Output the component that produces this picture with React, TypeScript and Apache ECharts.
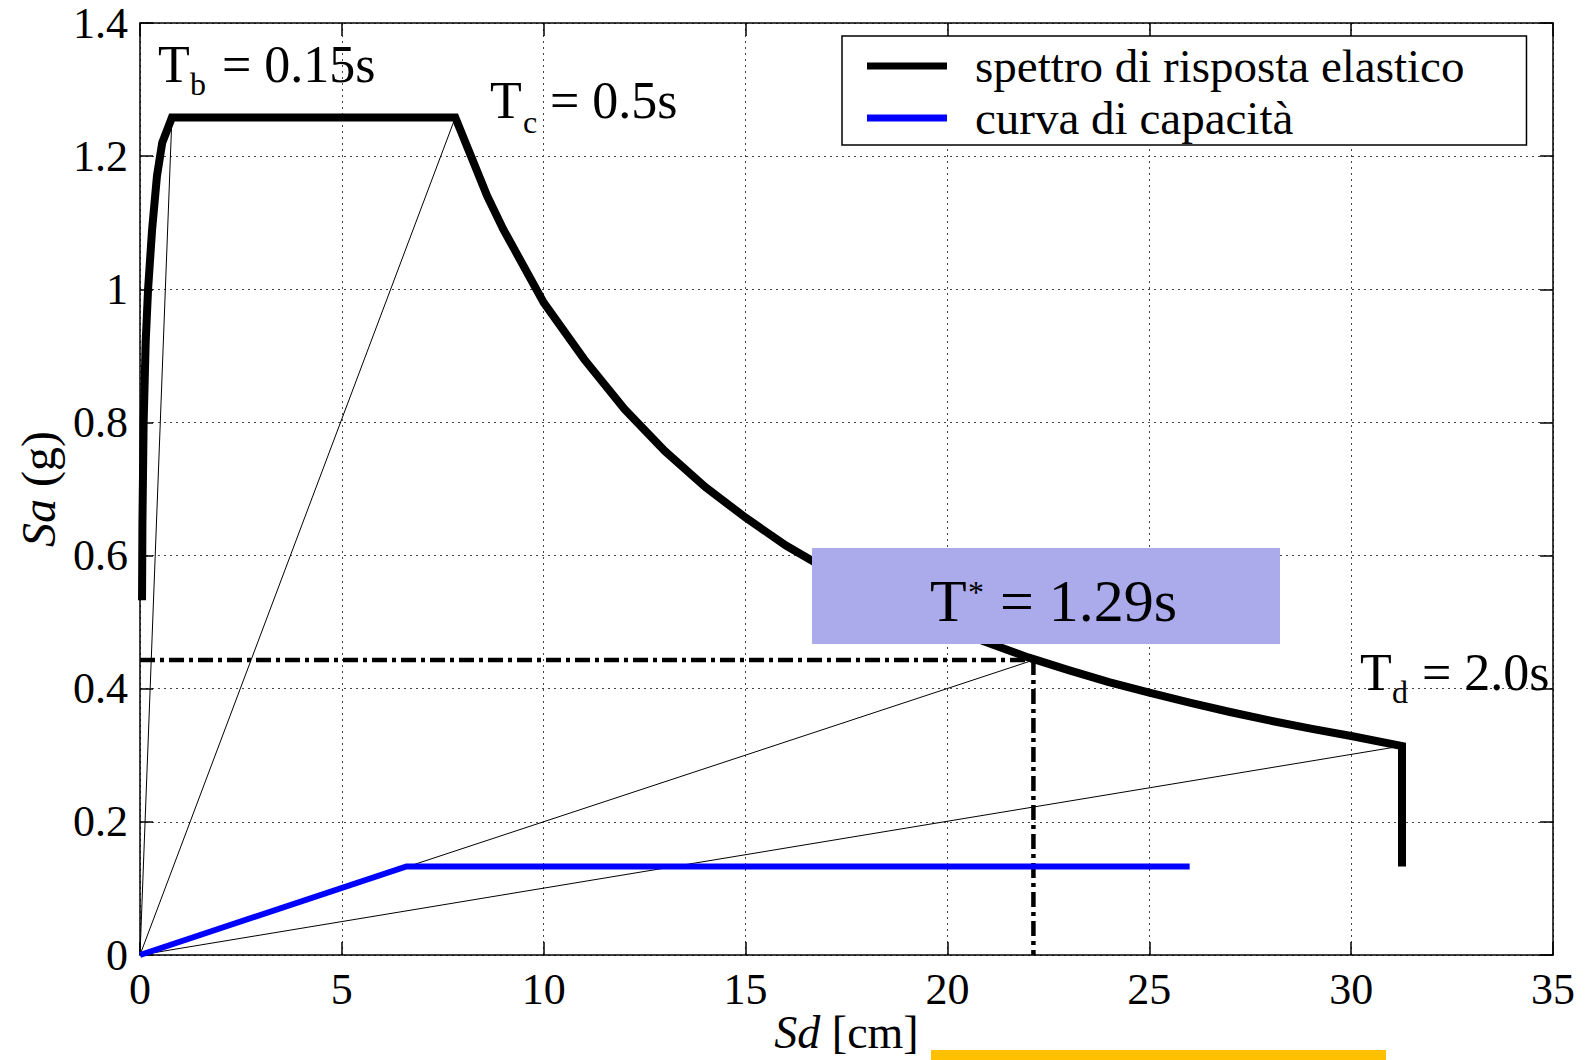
import React, { useEffect, useRef } from "react";
import * as echarts from "echarts";

// ---- Data ----
const xTicks = [0, 5, 10, 15, 20, 25, 30, 35];
const yTickLabels = ["0", "0.2", "0.4", "0.6", "0.8", "1", "1.2", "1.4"];

// elastic response spectrum (Sd [cm], Sa [g])
const spectrumSd = [
  0.05, 0.06, 0.09, 0.14, 0.2, 0.3, 0.42, 0.55, 0.79, 7.81, 8.2, 8.6, 9, 9.5, 10, 11, 12, 13, 14, 15,
  16, 17, 18, 19, 20, 21, 22, 23, 24, 25, 26, 27, 28, 29, 30, 31.26, 31.26,
];
const spectrumSa = [
  0.533, 0.65, 0.8, 0.92, 1.0, 1.09, 1.17, 1.22, 1.258, 1.258, 1.2, 1.14, 1.09, 1.035, 0.98, 0.895,
  0.82, 0.757, 0.703, 0.657, 0.615, 0.58, 0.547, 0.518, 0.492, 0.469, 0.447, 0.428, 0.41, 0.394,
  0.379, 0.365, 0.352, 0.34, 0.329, 0.314, 0.133,
];

// capacity curve
const capacitySd = [0, 6.6, 26];
const capacitySa = [0, 0.133, 0.133];

// thin rays from the origin (Tb, Tc, T*, Td)
const rayEndSd = [0.79, 7.81, 22.13, 31.26];
const rayEndSa = [1.258, 1.258, 0.443, 0.314];

// T* performance point
const tStarSd = 22.13;
const tStarSa = 0.443;

const legendNames = ["spettro di risposta elastico", "curva di capacità"];

const SERIF = '"Liberation Serif", "Times New Roman", serif';

function txt(text: string, x: number, y: number, size: number) {
  return {
    type: "text",
    x,
    y,
    z: 110,
    silent: true,
    style: {
      text,
      fill: "#000",
      font: `${size}px ${SERIF}`,
      textAlign: "left",
      textVerticalAlign: "middle",
    },
  };
}

export default function App() {
  const ref = useRef<HTMLDivElement>(null);

  useEffect(() => {
    if (!ref.current) return;
    const chart = echarts.init(ref.current, undefined, { renderer: "svg" });

    const pairs = (xs: number[], ys: number[]) => xs.map((x, i) => [x, ys[i]]);

    const axisLineStyle = { color: "#000", width: 1.5 };
    const tickCommon = { inside: true, length: 13, lineStyle: { color: "#000", width: 1.5 } };
    const gridLine = { show: true, lineStyle: { type: [2, 4], color: "#444", width: 1 } };

    const rays = rayEndSd.map((sd, i) => ({
      name: "ray" + i,
      type: "line",
      data: [
        [0, 0],
        [sd, rayEndSa[i]],
      ],
      symbol: "none",
      lineStyle: { color: "#000", width: 1 },
      z: 3,
      silent: true,
    }));

    const dashDot = [15, 5, 4, 5];

    const option: any = {
      animation: false,
      backgroundColor: "#fff",
      grid: {
        left: 140,
        right: 34,
        top: 23,
        bottom: 105,
        containLabel: false,
        outerBoundsMode: "none",
      },
      legend: {
        data: legendNames,
        orient: "vertical",
        left: 842,
        top: 36,
        icon: "rect",
        itemWidth: 80,
        itemHeight: 7,
        itemGap: 0,
        padding: [4, 62, 1, 25],
        backgroundColor: "#fff",
        borderColor: "#000",
        borderWidth: 1.5,
        borderRadius: 0,
        selectedMode: false,
        textStyle: {
          fontFamily: SERIF,
          fontSize: 47,
          lineHeight: 52,
          color: "#000",
          padding: [0, 0, 0, 23],
        },
      },
      xAxis: [
        {
          type: "value",
          min: 0,
          max: 35,
          interval: 5,
          position: "bottom",
          axisLine: { show: true, onZero: false, lineStyle: axisLineStyle },
          axisTick: tickCommon,
          axisLabel: {
            margin: 12,
            fontFamily: SERIF,
            fontSize: 44,
            color: "#000",
            formatter: (v: number) => (xTicks.includes(v) ? String(v) : ""),
          },
          splitLine: gridLine,
          name: "{i|Sd} [cm]",
          nameLocation: "middle",
          nameGap: 54,
          nameMoveOverlap: false,
          nameTextStyle: {
            fontFamily: SERIF,
            fontSize: 46,
            lineHeight: 46,
            color: "#000",
            rich: {
              i: { fontFamily: SERIF, fontSize: 46, lineHeight: 46, fontStyle: "italic", color: "#000" },
            },
          },
        },
        {
          type: "value",
          min: 0,
          max: 35,
          interval: 5,
          position: "top",
          axisLine: { show: true, onZero: false, lineStyle: axisLineStyle },
          axisTick: tickCommon,
          axisLabel: { show: false },
          splitLine: { show: false },
        },
      ],
      yAxis: [
        {
          type: "value",
          min: 0,
          max: 1.4,
          interval: 0.2,
          position: "left",
          axisLine: { show: true, onZero: false, lineStyle: axisLineStyle },
          axisTick: tickCommon,
          axisLabel: {
            margin: 12,
            fontFamily: SERIF,
            fontSize: 44,
            color: "#000",
            formatter: (v: number) => yTickLabels[Math.round(v / 0.2)] ?? "",
          },
          splitLine: gridLine,
          name: "{i|Sa} (g)",
          nameLocation: "middle",
          nameGap: 78,
          nameMoveOverlap: false,
          nameTextStyle: {
            fontFamily: SERIF,
            fontSize: 48,
            color: "#000",
            rich: { i: { fontFamily: SERIF, fontSize: 48, fontStyle: "italic", color: "#000" } },
          },
        },
        {
          type: "value",
          min: 0,
          max: 1.4,
          interval: 0.2,
          position: "right",
          axisLine: { show: true, onZero: false, lineStyle: axisLineStyle },
          axisTick: tickCommon,
          axisLabel: { show: false },
          splitLine: { show: false },
        },
      ],
      series: [
        ...rays,
        {
          name: "tstar-h",
          type: "line",
          data: [
            [0, tStarSa],
            [tStarSd, tStarSa],
          ],
          symbol: "none",
          lineStyle: { color: "#000", width: 4.5, type: dashDot },
          z: 4,
          silent: true,
        },
        {
          name: "tstar-v",
          type: "line",
          data: [
            [tStarSd, tStarSa],
            [tStarSd, 0],
          ],
          symbol: "none",
          lineStyle: { color: "#000", width: 4.5, type: dashDot },
          z: 4,
          silent: true,
        },
        {
          name: legendNames[0],
          type: "line",
          data: pairs(spectrumSd, spectrumSa),
          symbol: "none",
          color: "#000",
          itemStyle: { color: "#000" },
          lineStyle: { color: "#000", width: 8, join: "miter", cap: "butt" },
          z: 5,
          silent: true,
        },
        {
          name: legendNames[1],
          type: "line",
          data: pairs(capacitySd, capacitySa),
          symbol: "none",
          color: "#0000ff",
          itemStyle: { color: "#0000ff" },
          lineStyle: { color: "#0000ff", width: 6, join: "miter", cap: "butt" },
          z: 6,
          silent: true,
        },
      ],
      graphic: [
        {
          type: "rect",
          z: 100,
          silent: true,
          shape: { x: 812, y: 548, width: 468, height: 96 },
          style: { fill: "#ababeb" },
        },
        {
          type: "rect",
          z: 100,
          silent: true,
          shape: { x: 931, y: 1050, width: 455, height: 10 },
          style: { fill: "#ffc000" },
        },
        // T_b = 0.15s
        txt("T", 158, 64.5, 52),
        txt("b", 190, 84, 32),
        txt("= 0.15s", 222, 64.5, 52),
        // T_c = 0.5s
        txt("T", 490, 100.5, 52),
        txt("c", 523, 122, 32),
        txt("= 0.5s", 550, 100.5, 52),
        // T_d = 2.0s
        txt("T", 1360, 672.5, 52),
        txt("d", 1392, 692, 32),
        txt("= 2.0s", 1422, 672.5, 52),
        // T* = 1.29s
        txt("T", 930, 601, 60),
        txt("*", 968, 592, 32),
        txt("= 1.29s", 1000, 601, 60),
      ],
    };

    chart.setOption(option);
    return () => chart.dispose();
  }, []);

  return (
    <div
      ref={ref}
      style={{ position: "absolute", left: 0, top: 0, width: 1587, height: 1060, background: "#fff" }}
    />
  );
}
